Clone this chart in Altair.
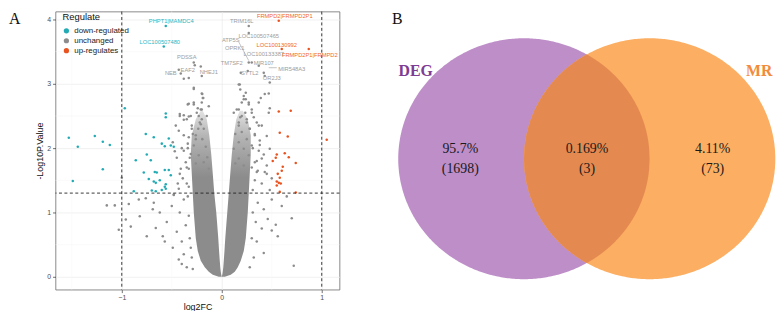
import altair as alt
import numpy as np
import pandas as pd

# ================= Panel A : volcano plot =================
regulate_levels = ["down-regulated", "unchanged", "up-regulates"]
regulate_colors = ["#22abb5", "#8c8c8c", "#e8531f"]

down_x = [-0.56, -0.58, -0.97, -1.53, -1.44, -1.49, -1.27, -1.19, -1.12, -1.19, -0.76, -0.68,
          -0.56, -0.56, -0.53, -0.60, -0.57, -0.51, -0.75, -0.86, -0.71, -0.78, -0.65, -0.57,
          -0.53, -0.68, -0.66, -0.56, -0.57, -0.66, -0.60, -0.56, -0.73, -0.51, -0.88, -0.70,
          -0.62, -0.48, -0.67]
down_y = [3.90, 3.58, 2.62, 2.16, 2.02, 1.49, 2.19, 2.10, 2.05, 1.67, 2.22, 2.17,
          2.54, 2.48, 2.15, 2.07, 2.03, 2.04, 1.90, 1.81, 1.81, 1.62, 1.62, 1.66,
          1.66, 1.48, 1.46, 1.44, 1.40, 1.33, 1.35, 1.37, 1.52, 1.58, 1.33, 1.34,
          1.50, 2.02, 1.63]

up_x = [0.57, 0.60, 0.87, 0.57, 0.69, 0.58, 0.66, 1.05, 0.55, 0.54, 0.51, 0.63,
        0.67, 0.74, 0.61, 0.60, 0.56, 0.58, 0.55, 0.57, 0.59, 0.55, 0.58, 0.74]
up_y = [3.98, 3.54, 3.54, 2.57, 2.58, 2.24, 2.18, 2.13, 1.90, 1.85, 1.80, 1.92,
        1.86, 1.77, 1.71, 1.65, 1.60, 1.54, 1.48, 1.46, 1.45, 1.42, 1.32, 1.31]

# sparse gray points outside / above the saturated cloud
unch_x = [-1.15, -1.07, -1.00, -0.93, -0.96, -0.91, -1.03, -0.82, -0.76, -0.83, -0.75, -0.66,
          -0.59, -0.57, -0.69, -0.68, -0.49, -0.43, -0.40, -0.62, -0.55, -0.50, -0.45, -0.48,
          -0.42, -0.40, -0.38, -0.35, -0.36, -0.38, -0.35, -0.42, -0.45, -0.40, -0.38, -0.42,
          -0.38, -0.33, -0.38, -0.46, -0.47, -0.44,
          -0.28, -0.20, -0.19, -0.33, -0.28, -0.43, -0.41, -0.38, -0.33, -0.28, -0.27, -0.20,
          -0.21, -0.35, -0.25, -0.22, -0.30, -0.18, -0.26, -0.20, -0.15, -0.13, -0.24,
          -0.30, -0.32, -0.33, -0.34, -0.35, -0.34, -0.29, -0.31, -0.33, -0.32, -0.30,
          -0.195, -0.185, -0.20, -0.21, -0.23, -0.20, -0.21, -0.235, -0.29, -0.33, -0.26, -0.195,
          -0.34, -0.28, -0.16, -0.38, -0.31, -0.23, -0.145, -0.36, -0.26, -0.18, -0.41, -0.33,
          -0.13, -0.39, -0.43, -0.48, -0.34, -0.28, -0.31, -0.43, -0.49, -0.28, -0.42,
          0.27, 0.27, 0.27, 0.19, 0.26, 0.30, 0.37, 0.42, 0.43, 0.48, 0.24, 0.22,
          0.27, 0.39, 0.47, 0.18, 0.48, 0.20, 0.25, 0.30, 0.35, 0.28, 0.33, 0.40,
          0.15, 0.17, 0.12,
          0.38, 0.42, 0.35, 0.45, 0.40, 0.48, 0.33, 0.36, 0.42, 0.50, 0.46, 0.40,
          0.50, 0.54, 0.56, 0.42, 0.70, 0.72, 0.35, 0.32, 0.60, 0.65, 0.28, 0.30,
          0.31, 0.31, 0.30, 0.31, 0.34, 0.36,
          0.17, 0.185, 0.22, 0.24, 0.27, 0.20, 0.17, 0.30, 0.235, 0.185, 0.32, 0.25,
          0.17, 0.37, 0.28, 0.20, 0.135, 0.33, 0.25, 0.38, 0.17, 0.30, 0.22, 0.12,
          0.37, 0.27, 0.17, 0.40, 0.33, 0.22, 0.45, 0.135, 0.43, 0.47, 0.37, 0.45,
          0.48, 0.43, 0.50, 0.35]
unch_y = [1.11, 1.11, 1.54, 1.13, 0.89, 0.78, 0.73, 0.94, 1.22, 1.20, 0.63, 0.76,
          0.63, 0.55, 1.05, 1.15, 0.45, 0.27, 0.20, 1.00, 0.85, 1.10, 0.70, 1.28,
          1.00, 0.55, 0.35, 0.15, 0.80, 1.20, 1.45, 1.60, 1.85, 2.00, 2.20, 2.50,
          2.51, 2.49, 2.44, 2.35, 1.95, 1.45,
          2.92, 2.85, 2.78, 2.69, 2.71, 3.22, 3.16, 3.08, 3.09, 3.33, 3.29, 3.12,
          3.27, 2.45, 2.55, 2.40, 2.30, 2.30, 2.20, 2.60, 2.50, 2.65, 2.62,
          0.30, 0.60, 0.95, 1.25, 1.70, 2.00, 0.12, 0.45, 1.40, 1.85, 2.35,
          2.84, 2.78, 2.71, 2.60, 2.50, 2.45, 2.37, 2.30, 2.22, 2.17, 2.14, 2.14,
          2.07, 2.04, 2.02, 1.96, 1.91, 1.89, 1.86, 1.78, 1.76, 1.78, 1.68, 1.68,
          1.68, 1.53, 1.37, 1.27, 2.68, 2.68, 2.50, 2.27, 2.09, 2.94, 2.53,
          3.90, 3.79, 3.33, 3.17, 3.20, 3.33, 3.28, 3.17, 3.12, 3.02, 2.86, 2.76,
          2.71, 2.78, 2.85, 2.99, 2.62, 2.50, 2.45, 2.55, 2.40, 2.30, 2.20, 2.35,
          2.60, 2.40, 2.55,
          2.05, 1.90, 1.80, 1.60, 1.45, 1.35, 1.50, 1.15, 1.05, 1.20, 0.90, 0.75,
          0.72, 0.81, 0.63, 0.37, 0.91, 0.17, 0.55, 0.30, 1.10, 1.25, 0.15, 0.60,
          1.00, 1.35, 1.70, 2.00, 0.85, 1.65,
          2.99, 2.91, 2.81, 2.76, 2.68, 2.71, 2.60, 2.60, 2.55, 2.48, 2.48, 2.40,
          2.35, 2.35, 2.30, 2.25, 2.22, 2.22, 2.14, 2.12, 2.09, 2.04, 1.99, 1.99,
          1.96, 1.89, 1.84, 1.84, 1.78, 1.73, 1.73, 1.76, 2.84, 2.55, 2.71, 2.19,
          1.99, 1.63, 1.53, 1.63]

# envelope of the saturated part of the gray cloud
core_y      = [0.00, 0.03, 0.08, 0.15, 0.25, 0.40, 0.60, 0.80, 1.00, 1.30, 1.60, 1.90, 2.20, 2.45, 2.58]
left_outer  = [-0.03, -0.09, -0.13, -0.17, -0.21, -0.24, -0.26, -0.27, -0.28, -0.29, -0.30, -0.31, -0.30, -0.26, -0.21]
left_inner  = [0.00, -0.005, -0.010, -0.015, -0.020, -0.027, -0.035, -0.045, -0.055, -0.075, -0.090, -0.105, -0.125, -0.150, -0.19]
right_inner = [0.00, 0.005, 0.010, 0.015, 0.020, 0.027, 0.035, 0.045, 0.055, 0.070, 0.085, 0.100, 0.120, 0.145, 0.18]
right_outer = [0.03, 0.09, 0.13, 0.16, 0.19, 0.22, 0.24, 0.25, 0.26, 0.27, 0.28, 0.29, 0.29, 0.26, 0.21]

label_text = ["PHPT1|MAMDC4", "LOC100507480", "PDSSA", "EAF2", "NHEJ1", "NEB", "TRIM16L",
              "LOC100507465", "ATP5S", "OPRK1", "LOC100133387", "TM7SF2", "MIR107", "MIR548A3",
              "SYTL2", "OR2J3", "FRMPD2|FRMPD2P1", "LOC100130992", "FRMPD2P1|FRMPD2"]
label_x = [-0.505, -0.62, -0.35, -0.34, -0.13, -0.51, 0.20, 0.37, 0.09, 0.13, 0.42, 0.10,
           0.42, 0.70, 0.28, 0.50, 0.63, 0.55, 0.88]
label_y = [3.98, 3.65, 3.42, 3.22, 3.18, 3.16, 3.98, 3.74, 3.68, 3.55, 3.47, 3.33, 3.33,
           3.23, 3.17, 3.09, 4.05, 3.60, 3.44]
label_group = ["down-regulated"] * 2 + ["unchanged"] * 14 + ["up-regulates"] * 3
label_palette = {"down-regulated": "#2ab6c2", "unchanged": "#9c9c9c", "up-regulates": "#f0672c"}

seg_x = [0.17, 0.47]
seg_y = [3.65, 3.25]
seg_x2 = [0.27, 0.55]
seg_y2 = [3.36, 3.25]

fc_cut = [-1, 1]
p_cut = [1.301]
x_minor = [-1.5, -0.5, 0.5]
y_minor = [0.5, 1.5, 2.5, 3.5]

pts = pd.concat([
    pd.DataFrame({"log2FC": unch_x, "logp": unch_y, "Regulate": "unchanged"}),
    pd.DataFrame({"log2FC": down_x, "logp": down_y, "Regulate": "down-regulated"}),
    pd.DataFrame({"log2FC": up_x, "logp": up_y, "Regulate": "up-regulates"}),
], ignore_index=True)
core = pd.DataFrame({"y": core_y * 2,
                     "a": left_outer + right_inner,
                     "b": left_inner + right_outer,
                     "side": ["L"] * len(core_y) + ["R"] * len(core_y)})
labels = pd.DataFrame({"t": label_text, "x": label_x, "y": label_y,
                       "c": [label_palette[g] for g in label_group]})
segs = pd.DataFrame({"x": seg_x, "y": seg_y, "x2": seg_x2, "y2": seg_y2})

xs = alt.Scale(domain=[-1.663, 1.178], nice=False, zero=False)
ys = alt.Scale(domain=[-0.2, 4.123], nice=False, zero=False)
x_axis = alt.Axis(values=[-1, 0, 1], format="d", grid=True, gridColor="#ebebeb", gridWidth=0.7,
                  domain=False, tickColor="#333333", tickSize=3, tickWidth=0.7,
                  labelFontSize=7, labelColor="#4d4d4d", labelPadding=1,
                  titleFontSize=9, titleFontWeight="normal", titlePadding=2, titleColor="#111")
y_axis = alt.Axis(values=[0, 1, 2, 3, 4], format="d", grid=True, gridColor="#ebebeb", gridWidth=0.7,
                  domain=False, tickColor="#333333", tickSize=3, tickWidth=0.7,
                  labelFontSize=7, labelColor="#4d4d4d", labelPadding=2,
                  titleFontSize=9, titleFontWeight="normal", titlePadding=2, titleColor="#111")


def X(f):
    return alt.X(f, type="quantitative", scale=xs, axis=x_axis, title="log2FC")


def Y(f):
    return alt.Y(f, type="quantitative", scale=ys, axis=y_axis, title="-Log10P.Value")


minor_v = alt.Chart(pd.DataFrame({"v": x_minor})).mark_rule(color="#f4f4f4", strokeWidth=0.5).encode(x=X("v"))
minor_h = alt.Chart(pd.DataFrame({"v": y_minor})).mark_rule(color="#f4f4f4", strokeWidth=0.5).encode(y=Y("v"))

cloud_fill = alt.Gradient(
    gradient="linear", x1=0, y1=1, x2=0, y2=0,
    stops=[alt.GradientStop(color="#8c8c8c", offset=0),
           alt.GradientStop(color="#8c8c8c", offset=0.6),
           alt.GradientStop(color="#b5b5b5", offset=0.85),
           alt.GradientStop(color="#e2e2e2", offset=1)])
wings = alt.Chart(core).mark_area(orient="horizontal", color=cloud_fill, opacity=1).encode(
    y=Y("y"), x=X("a"), x2="b", detail="side:N")

points = alt.Chart(pts).mark_circle(size=6.5, opacity=1).encode(
    x=X("log2FC"), y=Y("logp"),
    color=alt.Color("Regulate:N",
                    scale=alt.Scale(domain=regulate_levels, range=regulate_colors),
                    legend=alt.Legend(title="Regulate", orient="none", legendX=4, legendY=-2,
                                      padding=3, titleFontSize=9.5, titleFontWeight="normal",
                                      titleColor="#111", labelFontSize=8, labelColor="#222",
                                      symbolSize=28, symbolType="circle", symbolStrokeWidth=0,
                                      rowPadding=2, titlePadding=5, labelOffset=4)))

vlines = alt.Chart(pd.DataFrame({"v": fc_cut})).mark_rule(
    color="#222", strokeDash=[3, 2.5], strokeWidth=0.9).encode(x=X("v"))
hline = alt.Chart(pd.DataFrame({"v": p_cut})).mark_rule(
    color="#222", strokeDash=[3, 2.5], strokeWidth=0.9).encode(y=Y("v"))

leader = alt.Chart(segs).mark_rule(color="#9c9c9c", strokeWidth=0.6).encode(
    x=X("x"), y=Y("y"), x2="x2", y2="y2")

texts = alt.Chart(labels).mark_text(fontSize=5.8, font="Liberation Sans").encode(
    x=X("x"), y=Y("y"), text="t:N", color=alt.Color("c:N", scale=None))

tagA = alt.Chart(pd.DataFrame({"t": ["A"]})).mark_text(
    align="left", baseline="top", font="Liberation Serif", fontSize=16, color="#111").encode(
    text="t:N", x=alt.value(-47), y=alt.value(0))

left = alt.layer(minor_v, minor_h, wings, points, vlines, hline, leader, texts, tagA).properties(
    width=287, height=281)

# ================= Panel B : Venn diagram =================
set_names = ["DEG", "MR"]
set_colors = ["#be8ec8", "#fcae62"]
set_text_colors = ["#7e3c92", "#f28b3a"]
overlap_color = "#e48a50"
region_pct = ["95.7%", "0.169%", "4.11%"]
region_cnt = ["(1698)", "(3)", "(73)"]

# layout of the two (equal) sets in the panel's coordinate frame
cx = [526.3, 653.3]
cy = 156.7
rx = 127.0
ry = 121.7
name_x = [417, 764]
name_y = [68, 68]
region_x = [462, 590, 717]

t = np.linspace(np.pi, 0, 241)
frames = []
for i, n in enumerate(set_names):
    frames.append(pd.DataFrame({"x": cx[i] + rx * np.cos(t), "top": cy - ry * np.sin(t),
                                "bot": cy + ry * np.sin(t), "set": n}))
ell = pd.concat(frames, ignore_index=True)

lx = np.linspace(cx[1] - rx, cx[0] + rx, 241)
hd = ry * np.sqrt(np.clip(1 - ((lx - cx[0]) / rx) ** 2, 0, None))
hm = ry * np.sqrt(np.clip(1 - ((lx - cx[1]) / rx) ** 2, 0, None))
hl = np.minimum(hd, hm)
lens = pd.DataFrame({"x": lx, "top": cy - hl, "bot": cy + hl})

vx = alt.Scale(domain=[390, 776], nice=False, zero=False)
vy = alt.Scale(domain=[8, 289], nice=False, zero=False, reverse=True)


def VX(f):
    return alt.X(f, type="quantitative", scale=vx, axis=None)


def VY(f):
    return alt.Y(f, type="quantitative", scale=vy, axis=None)


ell_layers = [
    alt.Chart(ell[ell["set"] == n]).mark_area(color=set_colors[i], opacity=1).encode(
        x=VX("x"), y=VY("top"), y2="bot")
    for i, n in enumerate(set_names)
]
lens_layer = alt.Chart(lens).mark_area(color=overlap_color, opacity=1).encode(
    x=VX("x"), y=VY("top"), y2="bot")

names = pd.DataFrame({"t": set_names, "x": name_x, "y": name_y, "c": set_text_colors})
name_layer = alt.Chart(names).mark_text(font="Liberation Serif", fontSize=16, fontWeight="bold").encode(
    x=VX("x"), y=VY("y"), text="t:N", color=alt.Color("c:N", scale=None))

reg = pd.DataFrame({"t": region_pct + region_cnt, "x": region_x * 2,
                    "y": [147] * 3 + [167.5] * 3})
reg_layer = alt.Chart(reg).mark_text(font="Liberation Serif", fontSize=14, color="#1a1a1a").encode(
    x=VX("x"), y=VY("y"), text="t:N")

tagB = alt.Chart(pd.DataFrame({"t": ["B"]})).mark_text(
    align="left", baseline="top", font="Liberation Serif", fontSize=16, color="#111").encode(
    text="t:N", x=alt.value(3), y=alt.value(0))

right = alt.layer(*ell_layers, lens_layer, name_layer, reg_layer, tagB).properties(
    width=386, height=281, view=alt.ViewBackground(stroke="transparent"))

chart = alt.hconcat(left, right, spacing=48).properties(padding=0, background="white").configure(
    font="Liberation Sans").configure_view(stroke="#6b6b6b", strokeWidth=0.8)

chart.save("out.html", embed_options={"renderer": "svg", "actions": False})
